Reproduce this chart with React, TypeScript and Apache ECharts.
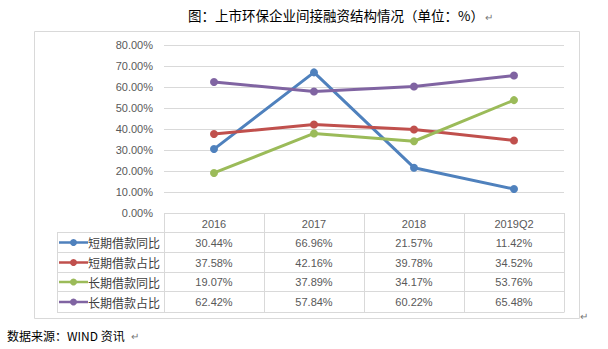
import React, { useEffect, useRef } from "react";
import * as echarts from "echarts";

const categories = ["2016", "2017", "2018", "2019Q2"];
const seriesNames = ["短期借款同比", "短期借款占比", "长期借款同比", "长期借款占比"];
const shortYoY = [30.44, 66.96, 21.57, 11.42];
const shortShare = [37.58, 42.16, 39.78, 34.52];
const longYoY = [19.07, 37.89, 34.17, 53.76];
const longShare = [62.42, 57.84, 60.22, 65.48];
const seriesColors = ["#4F81BD", "#C0504D", "#9BBB59", "#8064A2"];
const yMin = 0;
const yMax = 80;
const yInterval = 10;
const titleText = "图：上市环保企业间接融资结构情况（单位：%）";
const sourceText = "数据来源：WIND 资讯";

const numFont = "'Liberation Sans', Arial, sans-serif";
const cjkFont = "'Noto Sans CJK SC', sans-serif";

export default function App() {
  const ref = useRef<HTMLDivElement>(null);
  useEffect(() => {
    if (!ref.current) return;
    const chart = echarts.init(ref.current, undefined, { renderer: "svg" });
    const allSeries = [shortYoY, shortShare, longYoY, longShare];

    const gridLeft = 164;
    const gridTop = 45;
    const gridWidth = 400;
    const gridHeight = 168;
    const tableTop = gridTop + gridHeight;
    const headerBottom = 232;
    const rowBounds = [232, 252, 272, 291, 312];
    const legendLeft = 57;
    const colW = gridWidth / categories.length;
    const lineColor = "#D9D9D9";

    const graphic: any[] = [];
    graphic.push({
      type: "rect",
      shape: { x: 34.5, y: 31.5, width: 545, height: 287 },
      style: { fill: "none", stroke: lineColor, lineWidth: 1 },
      silent: true,
    });
    graphic.push({
      type: "text",
      x: 188,
      y: 15,
      style: {
        text: titleText,
        font: `13.5px ${cjkFont}`,
        fill: "#000",
        verticalAlign: "middle",
      },
    });
    graphic.push({
      type: "text",
      x: 485,
      y: 16,
      style: { text: "↵", font: `10px ${cjkFont}`, fill: "#777", verticalAlign: "middle" },
    });
    graphic.push({
      type: "text",
      x: 7,
      y: 335,
      style: { text: sourceText, font: `12px ${cjkFont}`, fill: "#000", verticalAlign: "middle" },
    });
    graphic.push({
      type: "text",
      x: 131,
      y: 335,
      style: { text: "↵", font: `10px ${cjkFont}`, fill: "#777", verticalAlign: "middle" },
    });
    graphic.push({
      type: "text",
      x: 580,
      y: 315,
      style: { text: "↵", font: `10px ${cjkFont}`, fill: "#777", verticalAlign: "middle" },
    });

    graphic.push({
      type: "line",
      shape: { x1: gridLeft, y1: tableTop + 0.5, x2: gridLeft + gridWidth, y2: tableTop + 0.5 },
      style: { stroke: lineColor, lineWidth: 1 },
    });
    rowBounds.forEach((y) => {
      graphic.push({
        type: "line",
        shape: { x1: legendLeft, y1: y + 0.5, x2: gridLeft + gridWidth, y2: y + 0.5 },
        style: { stroke: lineColor, lineWidth: 1 },
      });
    });
    graphic.push({
      type: "line",
      shape: { x1: legendLeft + 0.5, y1: headerBottom, x2: legendLeft + 0.5, y2: rowBounds[rowBounds.length - 1] + 0.5 },
      style: { stroke: lineColor, lineWidth: 1 },
    });
    for (let i = 0; i <= categories.length; i++) {
      const x = gridLeft + i * colW + 0.5;
      graphic.push({
        type: "line",
        shape: { x1: x, y1: tableTop, x2: x, y2: rowBounds[rowBounds.length - 1] + 0.5 },
        style: { stroke: lineColor, lineWidth: 1 },
      });
    }

    seriesNames.forEach((name, r) => {
      const cy = (rowBounds[r] + rowBounds[r + 1]) / 2 + 0.5;
      const color = seriesColors[r];
      graphic.push({
        type: "line",
        shape: { x1: 59, y1: cy, x2: 88, y2: cy },
        style: { stroke: color, lineWidth: 2.5 },
      });
      graphic.push({
        type: "circle",
        shape: { cx: 73.5, cy, r: 3.5 },
        style: { fill: color },
      });
      graphic.push({
        type: "text",
        x: 88,
        y: cy,
        style: { text: name, font: `12px ${cjkFont}`, fill: "#404040", verticalAlign: "middle" },
      });
      allSeries[r].forEach((v, c) => {
        graphic.push({
          type: "text",
          x: gridLeft + (c + 0.5) * colW,
          y: cy,
          style: {
            text: v.toFixed(2) + "%",
            font: `11px ${numFont}`,
            fill: "#595959",
            align: "center",
            verticalAlign: "middle",
          },
        });
      });
    });

    chart.setOption({
      animation: false,
      grid: { left: gridLeft, top: gridTop, width: gridWidth, height: gridHeight, containLabel: false },
      xAxis: {
        type: "category",
        data: categories,
        boundaryGap: true,
        axisLine: { show: false },
        axisTick: { show: false },
        axisLabel: {
          margin: 5,
          color: "#595959",
          fontSize: 11,
          fontFamily: numFont,
          verticalAlign: "top",
        },
        splitLine: { show: false },
      },
      yAxis: {
        type: "value",
        min: yMin,
        max: yMax,
        interval: yInterval,
        axisLine: { show: false },
        axisTick: { show: false },
        axisLabel: {
          margin: 11,
          color: "#595959",
          fontSize: 11,
          fontFamily: numFont,
          formatter: (v: number) => v.toFixed(2) + "%",
        },
        splitLine: { lineStyle: { color: lineColor, width: 1 } },
      },
      series: allSeries.map((d, i) => ({
        name: seriesNames[i],
        type: "line",
        data: d,
        symbol: "circle",
        symbolSize: 8,
        lineStyle: { color: seriesColors[i], width: 3 },
        itemStyle: { color: seriesColors[i] },
        z: 2 + i,
      })),
      graphic,
    });
    return () => chart.dispose();
  }, []);
  return (
    <div
      ref={ref}
      style={{ position: "absolute", left: 0, top: 0, width: 608, height: 349, background: "#fff" }}
    />
  );
}
